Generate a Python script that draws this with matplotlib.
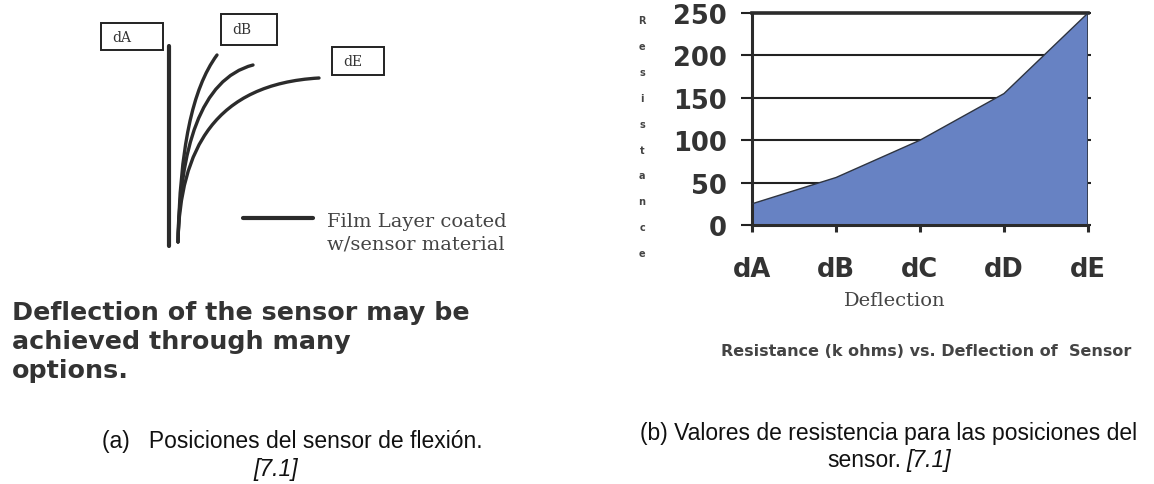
import matplotlib
matplotlib.use("Agg")
import matplotlib.pyplot as plt
from matplotlib.path import Path
from matplotlib.patches import PathPatch, Rectangle

# Resistance readings for each bend position
positions = ["dA", "dB", "dC", "dD", "dE"]
resistance = [25, 56, 100, 155, 250]
y_ticks = [0, 50, 100, 150, 200, 250]
y_word = "Resistance"

# Bend sketch: curve end points and the boxed position labels
bend_tips = [(217, 56), (253, 66), (319, 79)]
bend_ctrl = [[(180, 150), (192, 90)], [(180, 150), (200, 80)], [(180, 150), (215, 85)]]
box_labels = ["dA", "dB", "dE"]
box_rects = [(101, 24, 62, 27), (221, 15, 56, 31), (332, 48, 52, 28)]

W, H = 1154, 485
fig = plt.figure(figsize=(W / 100, H / 100), dpi=100)
fig.patch.set_facecolor("white")

# full-figure canvas in pixel units for the sketch and captions
canvas = fig.add_axes([0, 0, 1, 1])
canvas.set_xlim(0, W)
canvas.set_ylim(H, 0)
canvas.axis("off")

ink = "#2b2b2b"

# straight (unbent) sensor
canvas.plot([169, 169], [47, 247], color=ink, lw=3.0, solid_capstyle="round")
# bent sensors
base = (178, 243)
for tip, (c1, c2) in zip(bend_tips, bend_ctrl):
    path = Path([base, c1, c2, tip], [Path.MOVETO, Path.CURVE4, Path.CURVE4, Path.CURVE4])
    canvas.add_patch(PathPatch(path, fill=False, edgecolor=ink, lw=2.4, capstyle="round"))

for lab, (bx, by, bw, bh) in zip(box_labels, box_rects):
    canvas.add_patch(Rectangle((bx, by), bw, bh, facecolor="white", edgecolor="#222222", lw=1.4))
    canvas.text(bx + 11, by + bh / 2, lab, family="DejaVu Serif", fontsize=10,
                color="#333333", va="center", ha="left")

# legend stroke for the film layer
canvas.plot([243, 313], [219, 219], color=ink, lw=3.0, solid_capstyle="round")
canvas.text(327, 227, "Film Layer coated", family="DejaVu Serif", fontsize=14,
            color="#444444", va="baseline")
canvas.text(327, 250, "w/sensor material", family="DejaVu Serif", fontsize=14,
            color="#444444", va="baseline")

para = ["Deflection of the sensor may be", "achieved through many", "options."]
for i, line in enumerate(para):
    canvas.text(12, 320 + 29 * i, line, family="DejaVu Sans", weight="bold",
                fontsize=18.3, color="#333333", va="baseline")

renderer = fig.canvas.get_renderer()


def caption_line(cx, cy, plain, ref):
    # plain text followed by an italic reference, centred as one line
    t1 = canvas.text(0, cy, plain, family="Liberation Sans", fontsize=16.5,
                     color="#111111", va="center", ha="left")
    t2 = canvas.text(0, cy, ref, family="Liberation Sans", style="italic",
                     fontsize=16.5, color="#111111", va="center", ha="left")
    w1 = t1.get_window_extent(renderer).width
    w2 = t2.get_window_extent(renderer).width
    gap = 5 if plain else 0
    x0 = cx - (w1 + gap + w2) / 2
    t1.set_x(x0)
    t2.set_x(x0 + w1 + gap)


# sub-figure captions
canvas.text(102, 442, "(a)   Posiciones del sensor de flexión.", family="Liberation Sans",
            fontsize=16.5, color="#111111", va="center")
caption_line(276, 470, "", "[7.1]")
canvas.text(889, 434, "(b) Valores de resistencia para las posiciones del",
            family="Liberation Sans", fontsize=16.5, color="#111111", va="center", ha="center")
caption_line(889, 461, "sensor.", "[7.1]")

# resistance chart
ax = fig.add_axes([752 / W, 1 - 226 / H, (1088 - 752) / W, (226 - 14) / H])
x = list(range(len(positions)))
ax.fill_between(x, resistance, 0, facecolor="#6782c3", edgecolor="none", zorder=2)
ax.plot(x, resistance, color="#2e3440", lw=1.0, zorder=3)
ax.plot([x[-1], x[-1]], [0, resistance[-1]], color="#2e3440", lw=1.2, zorder=3)

ax.set_xlim(0, len(positions) - 1)
ax.set_ylim(0, 250)
ax.set_xticks(x)
ax.set_xticklabels(positions)
ax.set_yticks(y_ticks)

ax.yaxis.grid(True, color="#222222", lw=1.5)
ax.set_axisbelow(True)
for side in ["left", "bottom"]:
    ax.spines[side].set_linewidth(2.2)
    ax.spines[side].set_color("#2b2b2b")
ax.spines["top"].set_linewidth(2.6)
ax.spines["top"].set_color("#2b2b2b")
ax.spines["right"].set_visible(False)

ax.tick_params(axis="y", direction="out", length=8, width=1.5, color="#222222",
               pad=10, right=True, labelsize=18.5, labelcolor="#333333")
ax.tick_params(axis="x", direction="out", length=5, width=2.2, color="#2b2b2b",
               pad=17, labelsize=18.5, labelcolor="#333333")
for t in ax.yaxis.get_major_ticks():
    t.tick2line.set_markersize(2)
for lab in ax.get_xticklabels() + ax.get_yticklabels():
    lab.set_fontweight("bold")
    lab.set_family("DejaVu Sans")

fig.text(895 / W, 1 - 301 / H, "Deflection", family="DejaVu Serif", fontsize=14,
         color="#444444", ha="center", va="center")

# stacked vertical axis title
for i, ch in enumerate(y_word):
    fig.text(642 / W, 1 - (21 + 25.9 * i) / H, ch, family="DejaVu Sans", weight="bold",
             fontsize=7, color="#444444", ha="center", va="center")

fig.text(926 / W, 1 - 352 / H, "Resistance (k ohms) vs. Deflection of  Sensor",
         family="DejaVu Sans", weight="bold", fontsize=11.5, color="#444444",
         ha="center", va="center")

fig.savefig("out.png", dpi=100, facecolor="white")
